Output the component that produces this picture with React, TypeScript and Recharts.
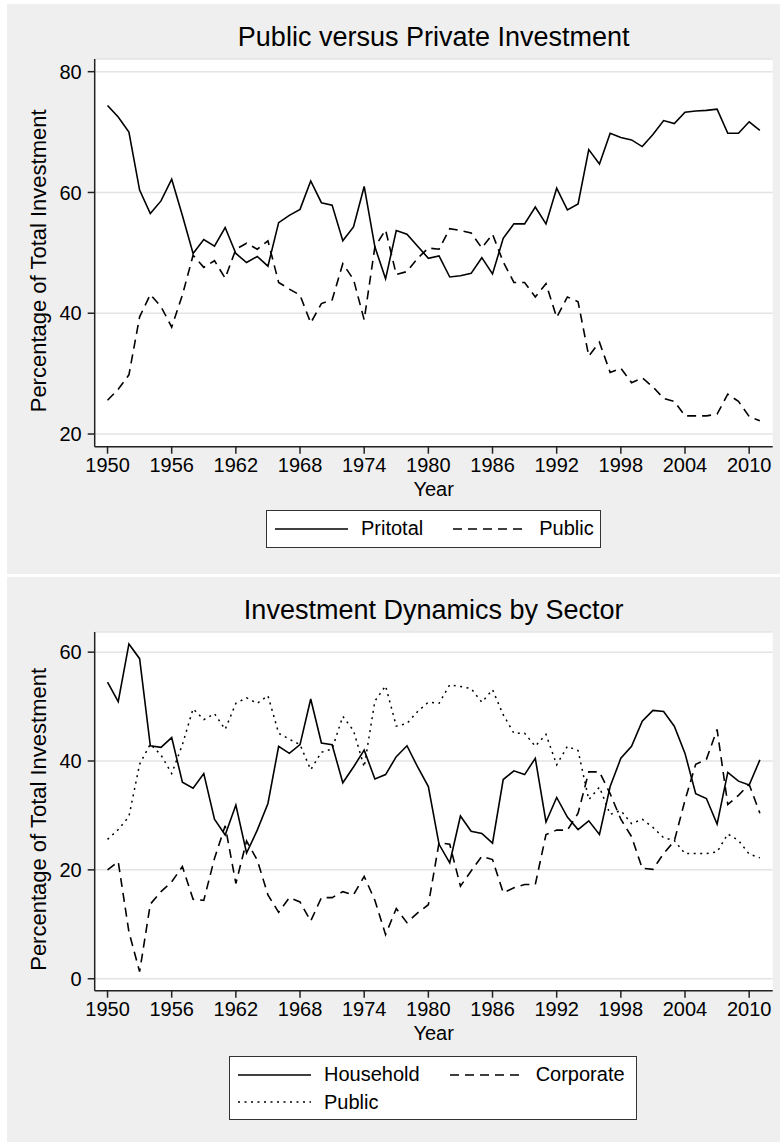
import { LineChart, Line, XAxis, YAxis, CartesianGrid, Legend, Text } from 'recharts'

const YEARS = [
  1950, 1951, 1952, 1953, 1954, 1955, 1956, 1957, 1958, 1959,
  1960, 1961, 1962, 1963, 1964, 1965, 1966, 1967, 1968, 1969,
  1970, 1971, 1972, 1973, 1974, 1975, 1976, 1977, 1978, 1979,
  1980, 1981, 1982, 1983, 1984, 1985, 1986, 1987, 1988, 1989,
  1990, 1991, 1992, 1993, 1994, 1995, 1996, 1997, 1998, 1999,
  2000, 2001, 2002, 2003, 2004, 2005, 2006, 2007, 2008, 2009, 2010, 2011,
]

// share of total investment, %
const PRITOTAL = [
  74.4, 72.5, 70.0, 60.4, 56.5, 58.6, 62.2, 56.2, 49.9, 52.2,
  51.1, 54.2, 49.9, 48.4, 49.4, 47.8, 55.0, 56.2, 57.2, 61.9,
  58.3, 57.9, 52.0, 54.3, 61.0, 51.0, 45.7, 53.7, 53.1, 51.1,
  49.1, 49.5, 46.0, 46.2, 46.6, 49.2, 46.5, 52.4, 54.8, 54.8,
  57.6, 54.8, 60.7, 57.1, 58.1, 67.1, 64.7, 69.8, 69.1, 68.7,
  67.6, 69.6, 71.9, 71.4, 73.3, 73.5, 73.6, 73.8, 69.8, 69.8, 71.7, 70.3,
]

const PUBLIC = [
  25.6, 27.4, 29.8, 39.4, 43.1, 41.1, 37.7, 43.0, 49.6, 47.6,
  48.7, 45.8, 50.6, 51.6, 50.6, 52.0, 45.1, 44.0, 43.0, 38.4,
  41.6, 42.2, 48.2, 45.6, 38.9, 51.0, 53.8, 46.4, 46.9, 49.1,
  50.8, 50.6, 54.0, 53.7, 53.3, 50.8, 53.1, 48.5, 45.1, 45.1,
  42.7, 44.9, 39.3, 42.7, 41.9, 32.9, 35.2, 30.2, 30.9, 28.5,
  29.3, 27.8, 25.9, 25.4, 23.0, 23.0, 23.0, 23.3, 26.6, 25.4, 22.9, 22.2,
]

const HOUSEHOLD = [
  54.5, 50.9, 61.5, 58.8, 42.8, 42.5, 44.3, 36.1, 35.0, 37.7,
  29.3, 26.4, 31.9, 23.1, 27.3, 32.2, 42.7, 41.4, 43.0, 51.4,
  43.3, 43.0, 36.0, 38.9, 42.0, 36.7, 37.5, 40.8, 42.8, 38.9,
  35.3, 24.7, 21.3, 29.9, 27.1, 26.7, 24.9, 36.6, 38.2, 37.5,
  40.5, 28.8, 33.3, 29.7, 27.4, 29.0, 26.5, 35.3, 40.5, 42.7,
  47.3, 49.3, 49.1, 46.4, 41.4, 34.0, 33.1, 28.4, 37.9, 36.3, 35.6, 40.2,
]

const CORPORATE = [
  20.0, 21.5, 8.6, 1.3, 13.7, 16.0, 17.8, 20.6, 14.6, 14.4,
  22.1, 28.1, 17.5, 25.3, 21.8, 15.4, 12.2, 14.9, 14.1, 10.6,
  14.9, 14.9, 16.0, 15.4, 18.8, 14.4, 8.1, 12.9, 10.3, 12.1,
  13.6, 25.0, 24.7, 17.0, 19.8, 22.5, 21.9, 15.8, 16.7, 17.3,
  17.3, 26.5, 27.3, 27.3, 30.4, 38.0, 38.0, 34.0, 29.3, 26.1,
  20.3, 20.1, 23.0, 25.3, 32.8, 39.4, 40.3, 45.8, 32.0, 33.7, 35.7, 30.4,
]

const YEAR_TICKS = [1950, 1956, 1962, 1968, 1974, 1980, 1986, 1992, 1998, 2004, 2010]
const TOP_Y_TICKS = [20, 40, 60, 80]
const BOTTOM_Y_TICKS = [0, 20, 40, 60]

const FONT = '"Liberation Sans", Arial, Helvetica, sans-serif'
const DASH = '9 6'
const DOT = '2 4.5'

type Series = { key: string; label: string; dash?: string; width: number }

const TOP_SERIES: Series[] = [
  { key: 'pritotal', label: 'Pritotal', width: 1.6 },
  { key: 'public', label: 'Public', dash: DASH, width: 1.6 },
]

const BOTTOM_SERIES: Series[] = [
  { key: 'household', label: 'Household', width: 1.6 },
  { key: 'corporate', label: 'Corporate', dash: DASH, width: 1.6 },
  { key: 'public', label: 'Public', dash: DOT, width: 1.5 },
]

const topData = YEARS.map((year, i) => ({ year, pritotal: PRITOTAL[i], public: PUBLIC[i] }))
const bottomData = YEARS.map((year, i) => ({
  year,
  household: HOUSEHOLD[i],
  corporate: CORPORATE[i],
  public: PUBLIC[i],
}))

const tickStyle = { fill: '#000', fontSize: 20, fontFamily: FONT }
const axisStroke = { stroke: '#222', strokeWidth: 1.5 }

// recharts sorts its legend payload, so keep the series order ourselves
function legendContent(series: Series[]) {
  return () => (
    <div
      style={{
        boxSizing: 'border-box',
        width: '100%',
        height: '100%',
        background: '#fff',
        border: '1px solid #333',
        padding: '4px 8px',
        display: 'grid',
        gridTemplateColumns: 'auto auto',
        justifyContent: 'start',
        columnGap: 30,
        font: `20px/27.5px ${FONT}`,
        color: '#000',
      }}
    >
      {series.map((s) => (
        <div key={s.key} style={{ display: 'flex', alignItems: 'center' }}>
          <svg width={73} height={6} style={{ display: 'block' }}>
            <line x1={0} x2={73} y1={3} y2={3} stroke="#000" strokeWidth={s.width} strokeDasharray={s.dash} />
          </svg>
          <span style={{ marginLeft: 13 }}>{s.label}</span>
        </div>
      ))}
    </div>
  )
}

function YLabel(props: any) {
  const vb = props.viewBox
  return (
    <Text
      x={vb.x + 21.5}
      y={vb.y + vb.height / 2 + 8}
      angle={-90}
      textAnchor="middle"
      verticalAnchor="middle"
      fontSize={22}
      fontFamily={FONT}
      fill="#000"
    >
      Percentage of Total Investment
    </Text>
  )
}

interface PanelProps {
  top: number
  height: number
  title: string
  data: any[]
  series: Series[]
  yDomain: [number, number]
  yTicks: number[]
  marginBottom: number
  legendBox: { left: number; top: number; width: number; height: number }
}

function Panel({ top, height, title, data, series, yDomain, yTicks, marginBottom, legendBox }: PanelProps) {
  return (
    <div style={{ position: 'absolute', left: 7, top, width: 773, height, background: '#efefef' }}>
      <LineChart width={773} height={height} data={data} margin={{ top: 55, right: 7.3, left: 10, bottom: marginBottom }}>
        <CartesianGrid vertical={false} fill="#fff" stroke="#e4e4e4" strokeWidth={1.5} />
        <XAxis
          dataKey="year"
          type="number"
          domain={[1948.8, 2012.2]}
          ticks={YEAR_TICKS}
          allowDataOverflow
          height={55}
          tickSize={7}
          tickMargin={4}
          axisLine={axisStroke}
          tickLine={axisStroke}
          tick={tickStyle}
          label={{ value: 'Year', position: 'insideBottom', offset: 6, fill: '#000', fontSize: 20, fontFamily: FONT }}
        />
        <YAxis
          type="number"
          domain={yDomain}
          ticks={yTicks}
          allowDataOverflow
          width={77.7}
          tickSize={7}
          tickMargin={6}
          axisLine={axisStroke}
          tickLine={axisStroke}
          tick={tickStyle}
          label={{ content: YLabel }}
        />
        <Legend
          layout="horizontal"
          verticalAlign="middle"
          align="center"
          content={legendContent(series)}
          wrapperStyle={legendBox}
        />
        {series.map((s) => (
          <Line
            key={s.key}
            type="linear"
            dataKey={s.key}
            name={s.label}
            stroke="#000"
            strokeWidth={s.width}
            strokeDasharray={s.dash}
            dot={false}
            activeDot={false}
            isAnimationActive={false}
          />
        ))}
      </LineChart>
      <div
        style={{
          position: 'absolute',
          left: 87.7,
          width: 678,
          top: 19.7,
          textAlign: 'center',
          font: `27px/27px ${FONT}`,
          color: '#000',
        }}
      >
        {title}
      </div>
    </div>
  )
}

export default function App() {
  return (
    <div style={{ position: 'absolute', left: 0, top: 0, width: 780, height: 1142, background: '#fff', overflow: 'hidden' }}>
      <Panel
        top={4}
        height={570}
        title="Public versus Private Investment"
        data={topData}
        series={TOP_SERIES}
        yDomain={[17.9, 82.1]}
        yTicks={TOP_Y_TICKS}
        marginBottom={72.3}
        legendBox={{ left: 259, top: 506, width: 335, height: 38 }}
      />
      <Panel
        top={577}
        height={565}
        title="Investment Dynamics by Sector"
        data={bottomData}
        series={BOTTOM_SERIES}
        yDomain={[-2.2, 63.7]}
        yTicks={BOTTOM_Y_TICKS}
        marginBottom={96.3}
        legendBox={{ left: 222, top: 479, width: 408, height: 64 }}
      />
    </div>
  )
}
